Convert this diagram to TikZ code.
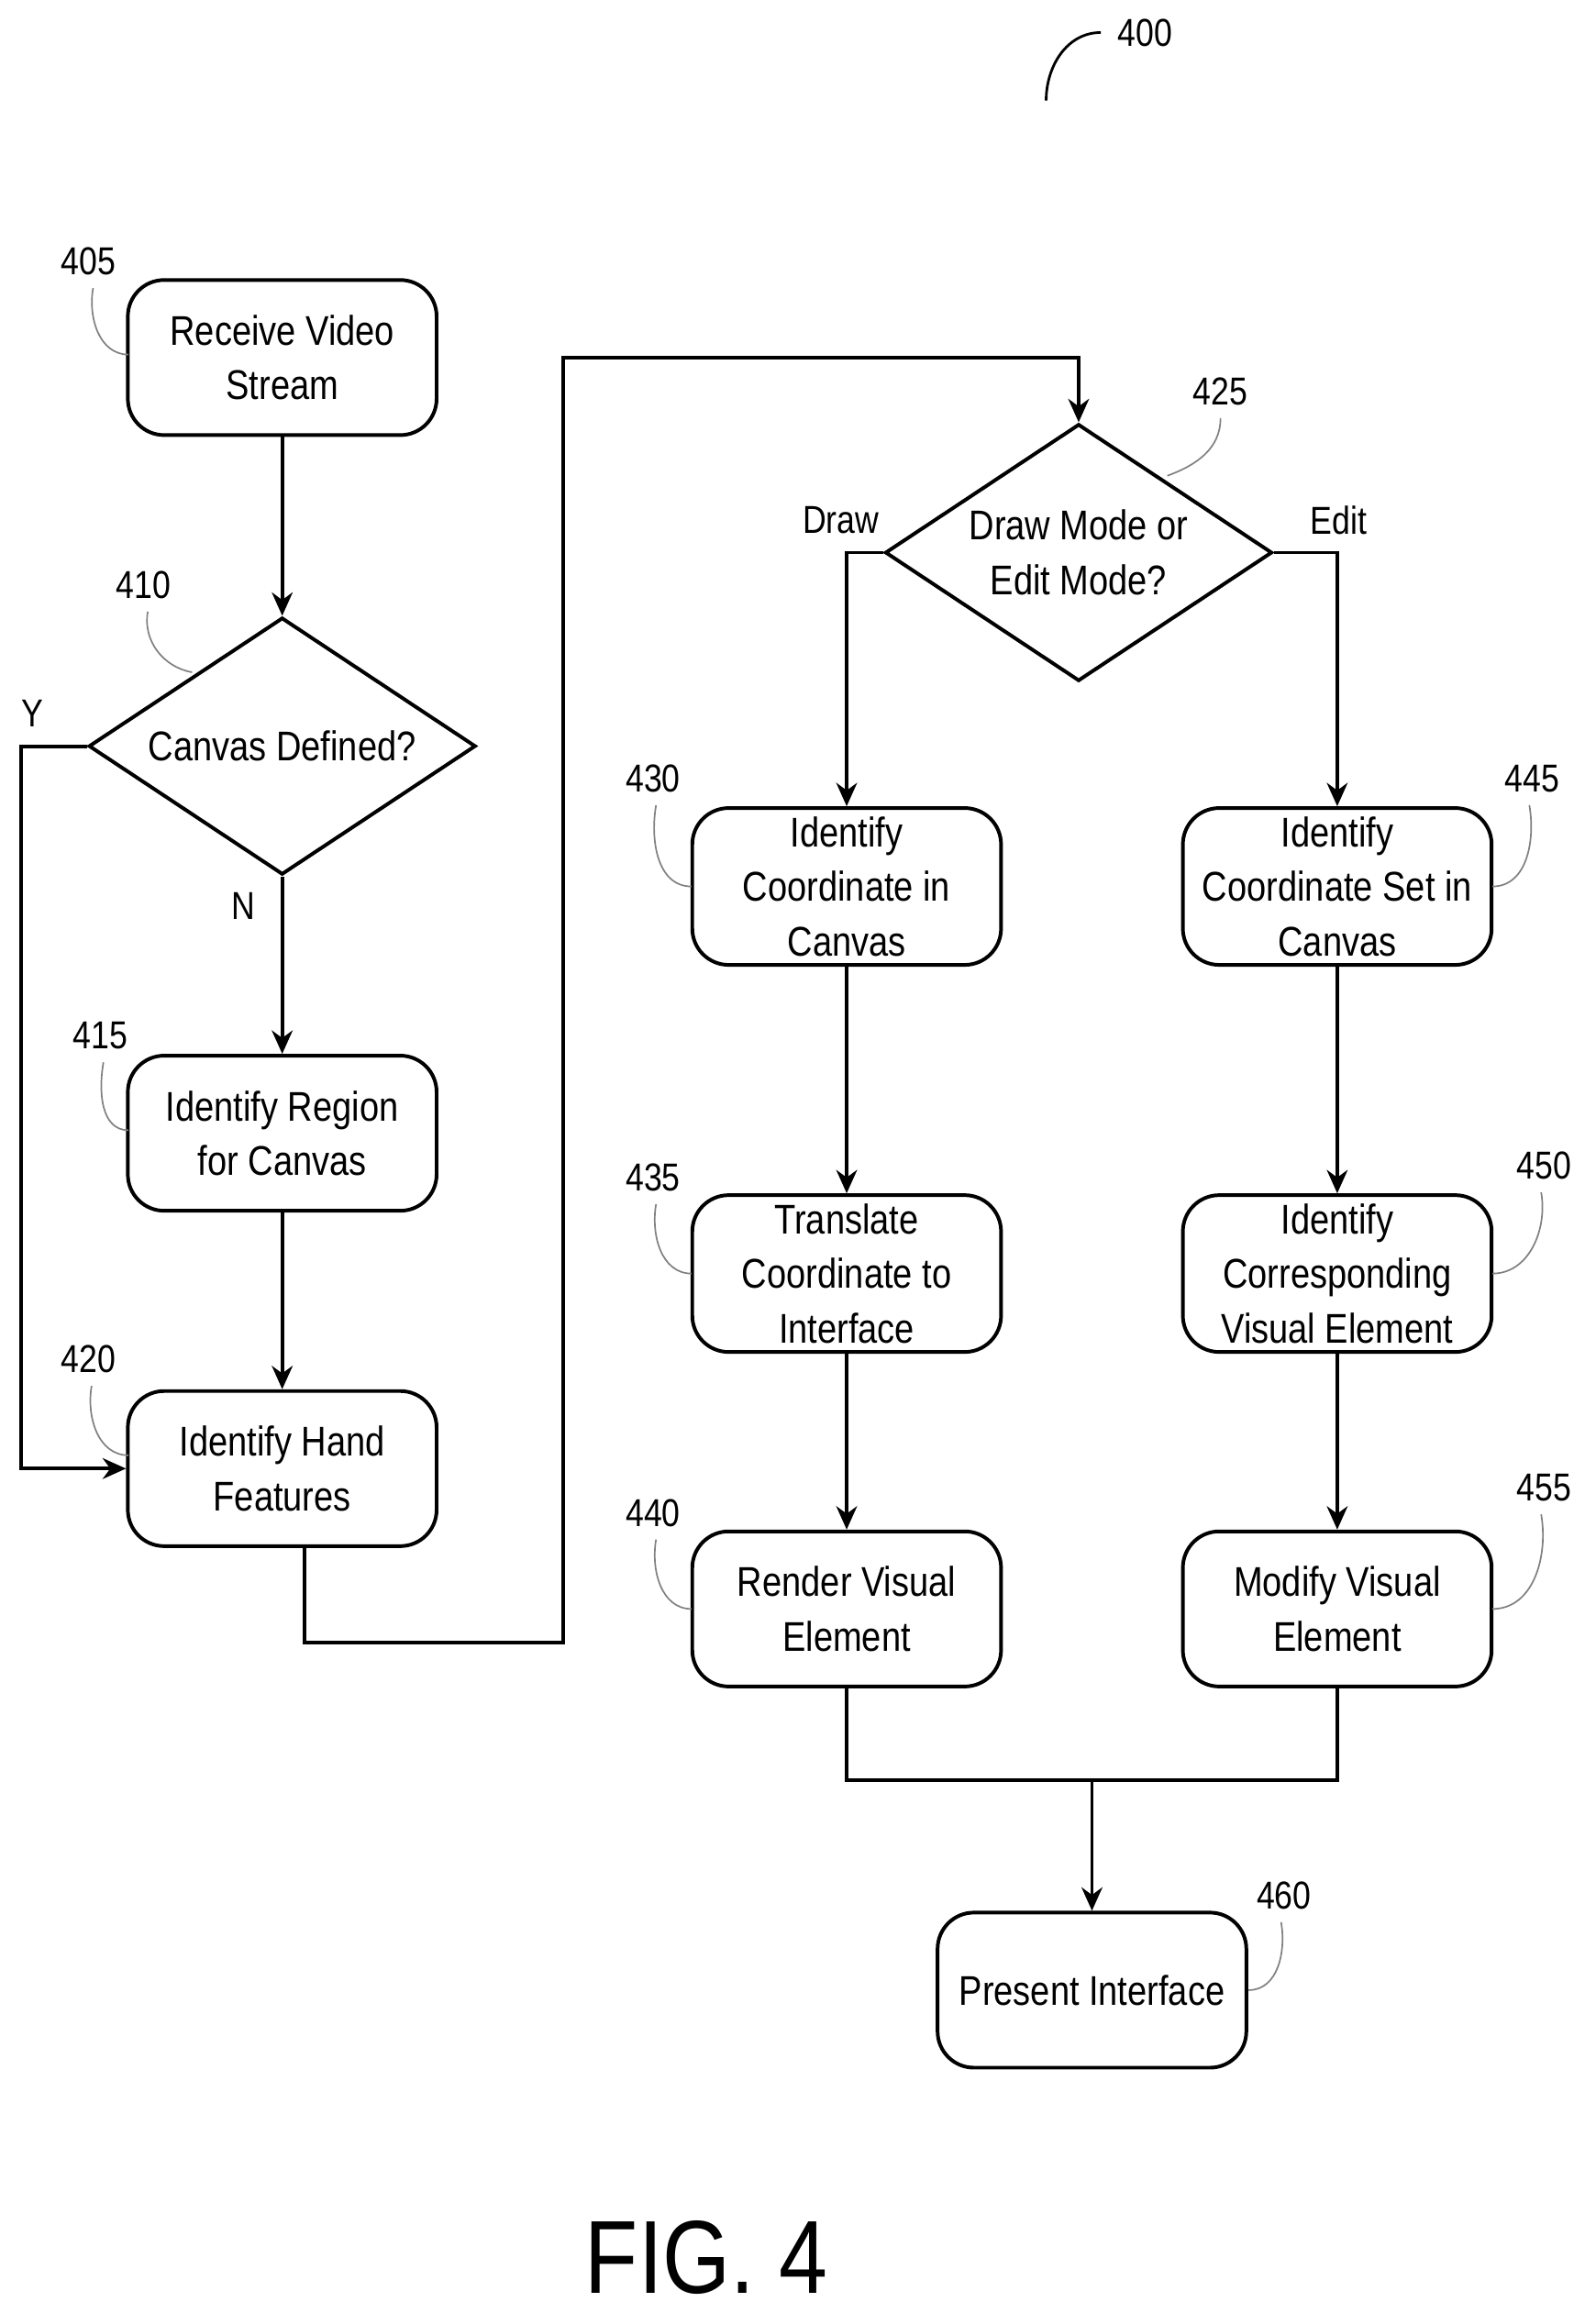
\documentclass[tikz,border=0pt]{standalone}
\usepackage{fontspec}
\setmainfont{Liberation Sans}[FakeStretch=0.84]
\usetikzlibrary{shapes.geometric,arrows.meta}
\tikzset{
  box/.style={draw,rounded corners=14pt,minimum width=4.18cm,minimum height=2.1cm,align=center,line width=1.4pt,font=\fontsize{16}{21}\selectfont},
  dia/.style={draw,diamond,aspect=1.5,minimum width=5.24cm,minimum height=3.48cm,inner sep=0pt,align=center,line width=1.4pt,font=\fontsize{16}{21}\selectfont},
  line/.style={line width=1.4pt},
  arr/.style={line width=1.4pt,-{Stealth[length=9pt,width=8pt]}},
  lead/.style={line width=0.6pt,gray},
  num/.style={font=\fontsize{15}{18}\selectfont}
}
\begin{document}
\begin{tikzpicture}[x=0.02cm,y=-0.02cm]
   \useasboundingbox (0,0) rectangle (1080,1573);
   % steps
   \node[box] (n405) at (191, 242) {Receive Video\\Stream};
   \node[dia] (n410) at (191, 505) {Canvas Defined?};
   \node[box] (n415) at (191, 767) {Identify Region\\for Canvas};
   \node[box] (n420) at (191, 994) {Identify Hand\\Features};
   \node[dia] (n425) at (730, 374) {Draw Mode or\\Edit Mode?};
   \node[box] (n430) at (573, 600) {Identify\\Coordinate in\\Canvas};
   \node[box] (n435) at (573, 862) {Translate\\Coordinate to\\Interface};
   \node[box] (n440) at (573,1089) {Render Visual\\Element};
   \node[box] (n445) at (905, 600) {Identify\\Coordinate Set in\\Canvas};
   \node[box] (n450) at (905, 862) {Identify\\Corresponding\\Visual Element};
   \node[box] (n455) at (905,1089) {Modify Visual\\Element};
   \node[box] (n460) at (739,1347) {Present Interface};
   % connectors
   \coordinate (out420) at (206,1047);
   \coordinate (join) at (739,1205);
   \draw[arr] (n405) -- (n410);
   \draw[arr] (n410) -- (n415);
   \draw[arr] (n415) -- (n420);
   \draw[arr] (n410.west) -| (14,700) |- (n420.west);
   \draw[arr] (out420) |- (381,1112) |- (730,242) -- (n425.north);
   \draw[arr] (n425.west) -| (n430.north);
   \draw[arr] (n425.east) -| (n445.north);
   \draw[arr] (n430) -- (n435);
   \draw[arr] (n435) -- (n440);
   \draw[arr] (n445) -- (n450);
   \draw[arr] (n450) -- (n455);
   \draw[line] (n440.south) |- (join) -| (n455.south);
   \draw[arr] (join) -- (n460);
   \node[num] at (22,483) {Y};
   \node[num] at (165,613) {N};
   \node[num] at (569,352) {Draw};
   \node[num] at (906,352) {Edit};
   % reference numerals
   \node[num] (r400) at (775, 22) {400};
   \node[num] (r405) at ( 60,177) {405};
   \node[num] (r410) at ( 97,396) {410};
   \node[num] (r415) at ( 68,701) {415};
   \node[num] (r420) at ( 60,920) {420};
   \node[num] (r425) at (826,265) {425};
   \node[num] (r430) at (442,527) {430};
   \node[num] (r435) at (442,797) {435};
   \node[num] (r440) at (442,1024) {440};
   \node[num] (r445) at (1037,527) {445};
   \node[num] (r450) at (1045,789) {450};
   \node[num] (r455) at (1045,1007) {455};
   \node[num] (r460) at (869,1283) {460};
   \draw[line,line width=1pt] (708,68) to[out=90,in=180] (745,22);
   \draw[lead] (63,195) to[out=-100,in=180] (87,240);
   \draw[lead] (100,414) to[out=-100,in=170] (130,455);
   \draw[lead] (70,719) to[out=-100,in=180] (87,765);
   \draw[lead] (62,938) to[out=-100,in=180] (87,985);
   \draw[lead] (826,283) to[out=-90,in=20] (790,322);
   \draw[lead] (444,545) to[out=-100,in=180] (468,600);
   \draw[lead] (444,815) to[out=-100,in=180] (468,862);
   \draw[lead] (444,1042) to[out=-100,in=180] (468,1089);
   \draw[lead] (1035,545) to[out=-80,in=0] (1010,600);
   \draw[lead] (1043,807) to[out=-80,in=0] (1010,862);
   \draw[lead] (1043,1025) to[out=-80,in=0] (1010,1089);
   \draw[lead] (867,1301) to[out=-80,in=0] (845,1347);
   \node[font=\fontsize{40}{44}\selectfont] (fig) at (478,1528) {FIG. 4};
\end{tikzpicture}
\end{document}
